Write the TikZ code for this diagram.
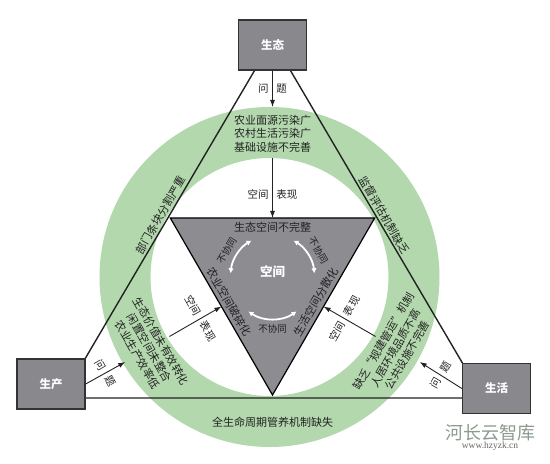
\documentclass[tikz,border=0pt]{standalone}
\usepackage{fontspec}
\setmainfont{Noto Sans CJK SC}
\newfontfamily\wmserif{Liberation Serif}
\usetikzlibrary{arrows.meta,calc}
\definecolor{ringgreen}{HTML}{B3D8AD}
\definecolor{trigray}{HTML}{8C8C91}
\definecolor{boxgray}{HTML}{88888D}
\definecolor{boxedge}{HTML}{333333}
\definecolor{inkc}{HTML}{222222}
\definecolor{wmgreen}{HTML}{8A9A8E}
\definecolor{wmgray}{HTML}{666666}
\tikzset{
  boxnode/.style={draw=boxedge, fill=boxgray, line width=1.3pt, minimum width=68pt,
    minimum height=50pt, text=white, font=\bfseries\fontsize{11.5}{13}\selectfont, inner sep=0pt},
  arr/.style={-{Latex[length=7pt,width=5pt]}, line width=0.9pt, draw=inkc},
  lbl/.style={font=\fontsize{10.5}{12}\selectfont, text=inkc, inner sep=0pt},
  blocktxt/.style={align=center, font=\fontsize{11}{13.5}\selectfont, text=inkc, inner sep=0pt},
  edgetxt/.style={font=\fontsize{11}{13}\selectfont, text=inkc, inner sep=0pt},
  sidetxt/.style={font=\fontsize{11}{13}\selectfont, text=inkc, inner sep=2.5pt},
  smalltxt/.style={font=\fontsize{9.5}{11}\selectfont, text=inkc, inner sep=0pt},
  warc/.style={{Latex[length=5pt,width=5.5pt]}-{Latex[length=5pt,width=5.5pt]}, draw=white, line width=1.8pt}
}
\begin{document}
\begin{tikzpicture}[x=1pt,y=1pt]
\useasboundingbox (0,0) rectangle (550,464);
\coordinate (C) at (272.5,187);
\coordinate (RC) at (269.5,187);
% green ring
\fill[ringgreen, even odd rule] (RC) circle[radius=170] (RC) circle[radius=119];
% inner gray triangle
\coordinate (T1) at ($(C)+(150:118)$);
\coordinate (T2) at ($(C)+(30:118)$);
\coordinate (T3) at ($(C)+(270:118)$);
\draw[fill=trigray, line width=1.2pt, line join=miter, draw=black] (T1) -- (T2) -- (T3) -- cycle;
% big triangle
\coordinate (A) at (272.5,424);
\coordinate (B) at (62,66);
\coordinate (D) at (483,66);
\draw[line width=1.4pt, draw=inkc] (A) -- (B) -- (D) -- cycle;
% boxes
\node[boxnode] (eco) at (272.5,419) {生态};
\node[boxnode] (prod) at (51,80) {生产};
\node[boxnode] (live) at (496.5,75.5) {生活};
% problem arrows
\coordinate (ta) at ($(C)+(90:170)$);
\coordinate (la) at ($(C)+(210:170)$);
\coordinate (ra) at ($(C)+(330:170)$);
\draw[arr] (eco.south) -- node[lbl] (q1) {问\hspace{8pt}题} (ta);
\draw[arr] (prod.east) -- node[lbl, rotate=-60] (q2) {问\hspace{8pt}题} (la);
\draw[arr] (live.west) -- node[lbl, rotate=60] (q3) {问\hspace{8pt}题} (ra);
% text blocks in ring
\node[blocktxt] (tblk) at ($(C)+(90:143.5)$) {农业面源污染广\\农村生活污染广\\基础设施不完善};
\node[blocktxt, rotate=-60] (lblk) at ($(C)+(210:142)$) {生态价值未有效转化\\闲置空间未整合\\农业生产效率低};
\node[blocktxt, rotate=60] (rblk) at ($(C)+(330:142)$) {缺乏“规建管运”机制\\人居环境品质不高\\公共设施不完善};
% space arrows
\coordinate (tb0) at ($(C)+(90:119)$);
\coordinate (tb1) at ($(C)+(90:59)$);
\coordinate (lb0) at ($(C)+(210:119)$);
\coordinate (lb1) at ($(C)+(210:59)$);
\coordinate (rb0) at ($(C)+(330:119)$);
\coordinate (rb1) at ($(C)+(330:59)$);
\draw[arr] (tb0) -- node[lbl, pos=0.6] (s1) {空间\hspace{8pt}表现} (tb1);
\draw[arr] (lb0) -- node[lbl, pos=0.6, rotate=-60] (s2) {空间\hspace{8pt}表现} (lb1);
\draw[arr] (rb0) -- node[lbl, pos=0.6, rotate=60] (s3) {空间\hspace{8pt}表现} (rb1);
% inner triangle edge texts
\node[edgetxt] (e1) at ($(C)+(90:50)$) {生态空间不完整};
\node[edgetxt, rotate=-60] (e2) at ($(C)+(210:50)$) {农业空间破碎化};
\node[edgetxt, rotate=60] (e3) at ($(C)+(330:50)$) {生活空间分散化};
% center
\node[font=\bfseries\fontsize{12.5}{14}\selectfont, text=white, inner sep=0pt] (ctr) at ($(C)+(0,5)$) {空间};
% white arcs
\draw[warc] ($(C)+(120:42)$) arc[start angle=120, end angle=175, radius=42];
\draw[warc] ($(C)+(5:42)$) arc[start angle=5, end angle=60, radius=42];
\draw[warc] ($(C)+(235:42)$) arc[start angle=235, end angle=305, radius=42];
\node[smalltxt, rotate=60] (n1) at ($(C)+(150:53)$) {不协同};
\node[smalltxt, rotate=-60] (n2) at ($(C)+(30:53)$) {不协同};
\node[smalltxt] (n3) at ($(C)+(270:52)$) {不协同};
% side labels of big triangle
\node[sidetxt, rotate=60, anchor=south] (sl) at ($(A)!0.5!(B)$) {部门条块分割严重};
\node[sidetxt, rotate=-60, anchor=south] (sr) at ($(A)!0.5!(D)$) {监督评估机制缺乏};
\node[sidetxt] (sb) at (272.5,42) {全生命周期管养机制缺失};
% watermark
\node[font=\fontsize{18}{20}\selectfont, text=wmgreen, inner sep=0pt] (wm1) at (490,31) {河长云智库};
\node[font=\wmserif\fontsize{9.5}{11}\selectfont, text=wmgray, inner sep=0pt] (wm2) at (490,18) {www.hzyzk.cn};
\end{tikzpicture}
\end{document}
